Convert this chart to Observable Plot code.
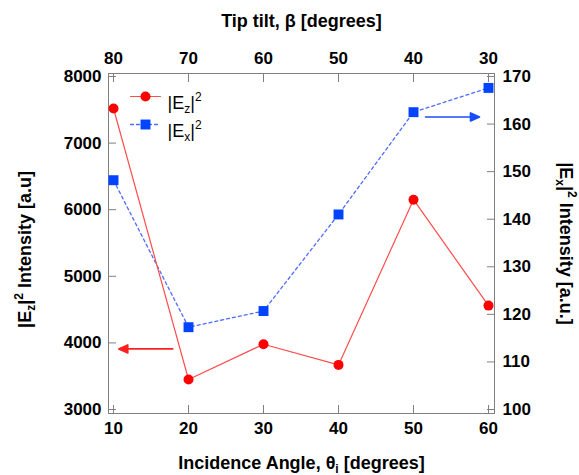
<!DOCTYPE html>
<html><head><meta charset="utf-8">
<script src="https://cdn.jsdelivr.net/npm/d3@7"></script>
<script src="https://cdn.jsdelivr.net/npm/@observablehq/plot@0.6"></script>
<style>
body{margin:0;background:#fff;}
#chart svg{font-family:"Liberation Sans",Arial,sans-serif;background:#fff;}
</style>
</head><body><div id="chart"></div>
<script>
// Data
const angles = [10, 20, 30, 40, 50, 60];          // incidence angle θi (deg)
const ez = [7520, 3450, 3980, 3670, 6150, 4560];   // |Ez|^2 (left axis)
const ex = [148.2, 117.3, 120.7, 141.0, 162.5, 167.6]; // |Ex|^2 (right axis)
const xTicks = [10, 20, 30, 40, 50, 60];
const leftTicks = [3000, 4000, 5000, 6000, 7000, 8000];
const rightTicks = [100, 110, 120, 130, 140, 150, 160, 170];
// annotation arrows: angle, value on own axis, axis, direction
const arrowAnn = [
  {x: 17.9, v: 3910, axis: "left", dir: -90, color: "#ff2020"},
  {x: 51.6, v: 161.5, axis: "right", dir: 90, color: "#1a4cff"}
];

// right axis (100..170) mapped onto left scale (3000..8000)
const toLeft = r => 3000 + (r - 100) * 5000 / 70;
const fromLeft = l => 100 + (l - 3000) * 70 / 5000;

const ezData = angles.map((a, i) => ({a, v: ez[i]}));
const exData = angles.map((a, i) => ({a, v: toLeft(ex[i])}));
const arrows = arrowAnn.map(d => ({...d, y: d.axis === "left" ? d.v : toLeft(d.v)}));

const RED_LINE = "#ff4d4d", RED = "#ff0000", BLUE_LINE = "#4d6bff", BLUE = "#0044ff";
const GRAY = "#808080";
const tickFont = {fontSize: 17, fontWeight: "bold"};
const titleFont = {fontSize: 18, fontWeight: "bold", textAnchor: "middle", lineAnchor: "middle"};

const arrowShape = {draw(c, l) {
  c.moveTo(0, 0); c.lineTo(0, -l + 7);
  c.moveTo(0, -l); c.lineTo(-4, -l + 9); c.lineTo(4, -l + 9); c.closePath();
}};
const segShape = {draw(c, l) { c.moveTo(0, l / 2); c.lineTo(0, -l / 2); }};

const chart = Plot.plot({
  width: 579, height: 475,
  marginLeft: 108, marginRight: 85, marginTop: 73, marginBottom: 62,
  x: {domain: [9.33, 60.8]},
  y: {domain: [2940, 8045]},
  marks: [
    Plot.frame({stroke: GRAY}),
    Plot.axisX(xTicks, {anchor: "bottom", tickSize: -8, tickPadding: 16, stroke: GRAY, ...tickFont, label: null, tickFormat: d => String(d)}),
    Plot.axisX(xTicks, {anchor: "top", tickSize: -8, tickPadding: 18, stroke: GRAY, ...tickFont, label: null, tickFormat: d => String(90 - d)}),
    Plot.axisY(leftTicks, {anchor: "left", tickSize: -8, tickPadding: 15, stroke: GRAY, ...tickFont, label: null, tickFormat: d => String(d)}),
    Plot.axisY(rightTicks.map(toLeft), {anchor: "right", tickSize: -8, tickPadding: 16, stroke: GRAY, ...tickFont, label: null, tickFormat: d => String(Math.round(fromLeft(d)))}),
    // series
    Plot.line(exData, {x: "a", y: "v", stroke: BLUE_LINE, strokeWidth: 1.3, strokeDasharray: "3,3"}),
    Plot.line(ezData, {x: "a", y: "v", stroke: RED_LINE, strokeWidth: 1.2}),
    Plot.dot(exData, {x: "a", y: "v", symbol: "square", r: 5.6, fill: BLUE}),
    Plot.dot(ezData, {x: "a", y: "v", r: 5, fill: RED}),
    // arrows
    Plot.vector(arrows, {x: "x", y: "y", rotate: "dir", length: 54, anchor: "start", shape: arrowShape, stroke: "color", fill: "color", strokeWidth: 1.6}),
    // legend
    Plot.vector([0], {frameAnchor: "top-left", dx: 37, dy: 23, rotate: 90, length: 30, anchor: "start", shape: segShape, stroke: RED_LINE, strokeWidth: 1.2}),
    Plot.dot([0], {frameAnchor: "top-left", dx: 37, dy: 23, r: 5, fill: RED}),
    Plot.vector([0], {frameAnchor: "top-left", dx: 37, dy: 51, rotate: 90, length: 30, anchor: "start", shape: segShape, stroke: BLUE_LINE, strokeWidth: 1.3, strokeDasharray: "3,3"}),
    Plot.dot([0], {frameAnchor: "top-left", dx: 37, dy: 51, symbol: "square", r: 5.6, fill: BLUE}),
    Plot.text(["LEG_EZ"], {frameAnchor: "top-left", dx: 59, dy: 23, textAnchor: "start", fontSize: 18}),
    Plot.text(["LEG_EX"], {frameAnchor: "top-left", dx: 59, dy: 51, textAnchor: "start", fontSize: 18}),
    // axis titles
    Plot.text(["Tip tilt, β [degrees]"], {frameAnchor: "top", dy: -52, ...titleFont}),
    Plot.text(["TITLE_X"], {frameAnchor: "bottom", dy: 50, ...titleFont}),
    Plot.text(["TITLE_EZ"], {frameAnchor: "left", dx: -83, dy: 6, rotate: -90, ...titleFont}),
    Plot.text(["TITLE_EX"], {frameAnchor: "right", dx: 71, rotate: 90, ...titleFont})
  ]
});
document.getElementById("chart").append(chart);

// rich text: subscripts / superscripts
const sub = (s, fs) => `<tspan dy="4" font-size="${fs}">${s}</tspan>`;
const sq = fs => `<tspan dy="-4">|</tspan><tspan dy="-8" font-size="${fs}">2</tspan>`;
const richMap = {
  LEG_EZ: `|E${sub("z", 12)}${sq(12)}`,
  LEG_EX: `|E${sub("x", 12)}${sq(12)}`,
  TITLE_EZ: `|E${sub("z", 12)}${sq(12)}<tspan dy="8"> Intensity [a.u]</tspan>`,
  TITLE_EX: `|E${sub("x", 12)}${sq(12)}<tspan dy="8"> Intensity [a.u.]</tspan>`,
  TITLE_X: `Incidence Angle, θ${sub("i", 12)}<tspan dy="-4"> [degrees]</tspan>`
};
d3.select(chart).selectAll("text").each(function() {
  const t = this.textContent.trim();
  if (richMap[t]) this.innerHTML = richMap[t];
});
</script>
</body></html>
